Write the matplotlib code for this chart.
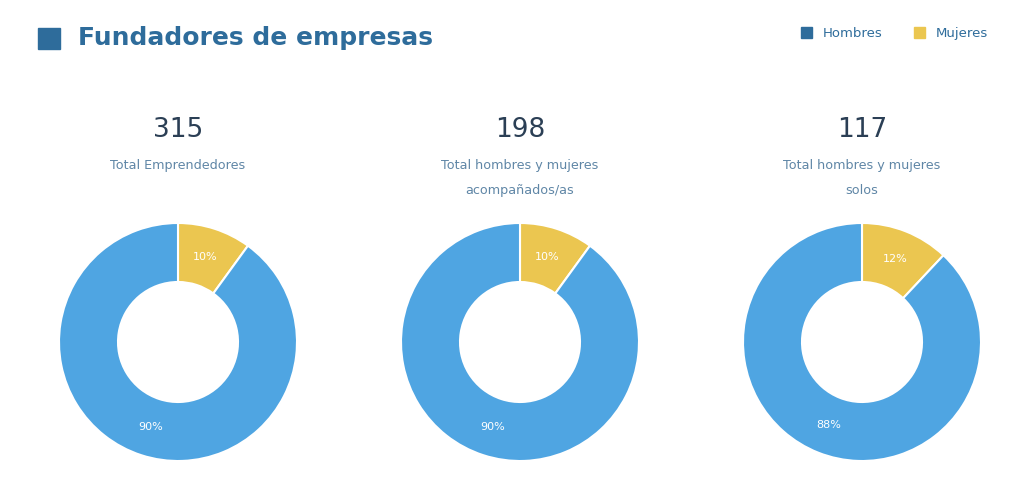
import matplotlib
matplotlib.use("Agg")
import matplotlib.pyplot as plt
from matplotlib.patches import Rectangle

totals = ["315", "198", "117"]
subtitles = ["Total Emprendedores", "Total hombres y mujeres\nacompañados/as", "Total hombres y mujeres\nsolos"]
mujeres = [10, 10, 12]
hombres = [90, 90, 88]
legend_labels = ["Hombres", "Mujeres"]

W, H = 1024, 487
fig = plt.figure(figsize=(W/100, H/100), dpi=100)
fig.patch.set_facecolor("white")
blue = "#4FA5E2"
yellow = "#EBC650"
dark = "#2E6C9B"
sub_c = "#5F86A6"

fig.patches.append(Rectangle((38/W, 1-49/H), 22/W, 21/H, transform=fig.transFigure, color=dark))
fig.text(78/W, 1-38/H, "Fundadores de empresas", fontsize=18, fontweight="bold", color=dark, va="center")
fig.patches.append(Rectangle((801/W, 1-38/H), 11/W, 11/H, transform=fig.transFigure, color=dark))
fig.text(823/W, 1-33/H, legend_labels[0], fontsize=9.5, color=dark, va="center")
fig.patches.append(Rectangle((914/W, 1-38/H), 11/W, 11/H, transform=fig.transFigure, color=yellow))
fig.text(936/W, 1-33/H, legend_labels[1], fontsize=9.5, color=dark, va="center")

centers = [178, 520, 862]
cy = 342
R = 120
for i, cx in enumerate(centers):
    fig.text(cx/W, 1-130/H, totals[i], fontsize=19, color="#2B3F55", ha="center", va="center")
    fig.text(cx/W, 1-159/H, subtitles[i], fontsize=9.2, color=sub_c, ha="center", va="top", linespacing=2.2)
    ax = fig.add_axes([(cx-R)/W, (H-cy-R)/H, 2*R/W, 2*R/H])
    ax.pie([mujeres[i], hombres[i]], colors=[yellow, blue], startangle=90, counterclock=False,
           radius=119/120, wedgeprops=dict(width=59/120, edgecolor="white", linewidth=1.5),
           labels=None, autopct=lambda p: f"{p:.0f}%", pctdistance=0.75,
           textprops=dict(color="white", fontsize=8))
    ax.set_xlim(-1, 1); ax.set_ylim(-1, 1)
    ax.set_aspect("equal")
    ax.axis("off")

fig.savefig("out.png", dpi=100, facecolor="white")
